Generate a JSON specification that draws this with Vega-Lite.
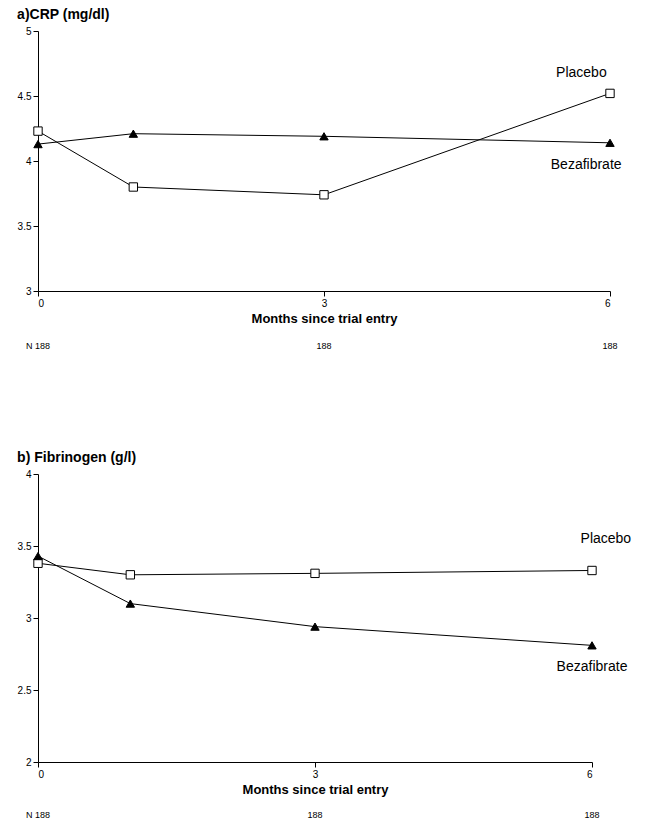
{
  "$schema": "https://vega.github.io/schema/vega-lite/v6.json",
  "config": {"view": {"stroke": null}, "font": "Liberation Sans", "axis": {"grid": false, "domainColor": "#000", "tickColor": "#000", "labelColor": "#000", "labelFontSize": 10, "titleColor": "#000"}},
  "padding": {"left": 17, "top": 8, "right": 0, "bottom": 0},
  "spacing": 100,
  "datasets": {
    "crp": [
      {"month": 0, "value": 4.23, "group": "Placebo"},
      {"month": 1, "value": 3.80, "group": "Placebo"},
      {"month": 3, "value": 3.74, "group": "Placebo"},
      {"month": 6, "value": 4.52, "group": "Placebo"},
      {"month": 0, "value": 4.13, "group": "Bezafibrate"},
      {"month": 1, "value": 4.21, "group": "Bezafibrate"},
      {"month": 3, "value": 4.19, "group": "Bezafibrate"},
      {"month": 6, "value": 4.14, "group": "Bezafibrate"}
    ],
    "fib": [
      {"month": 0, "value": 3.38, "group": "Placebo"},
      {"month": 1, "value": 3.30, "group": "Placebo"},
      {"month": 3, "value": 3.31, "group": "Placebo"},
      {"month": 6, "value": 3.33, "group": "Placebo"},
      {"month": 0, "value": 3.43, "group": "Bezafibrate"},
      {"month": 1, "value": 3.10, "group": "Bezafibrate"},
      {"month": 3, "value": 2.94, "group": "Bezafibrate"},
      {"month": 6, "value": 2.81, "group": "Bezafibrate"}
    ],
    "crpLabels": [
      {"month": 5.7, "value": 4.68, "label": "Placebo"},
      {"month": 5.75, "value": 3.97, "label": "Bezafibrate"}
    ],
    "fibLabels": [
      {"month": 6.15, "value": 3.55, "label": "Placebo"},
      {"month": 6.0, "value": 2.66, "label": "Bezafibrate"}
    ],
    "crpN": [
      {"month": 0, "value": 2.58, "label": "N  188"},
      {"month": 3, "value": 2.58, "label": "188"},
      {"month": 6, "value": 2.58, "label": "188"}
    ],
    "fibN": [
      {"month": 0, "value": 1.63, "label": "N  188"},
      {"month": 3, "value": 1.63, "label": "188"},
      {"month": 6, "value": 1.63, "label": "188"}
    ]
  },
  "vconcat": [
    {
      "width": 572, "height": 260,
      "title": {"text": "a)CRP (mg/dl)", "anchor": "start", "frame": "bounds", "fontSize": 14, "fontWeight": "bold", "offset": 4},
      "encoding": {
        "x": {"field": "month", "type": "quantitative", "scale": {"domain": [0, 6]}, "axis": {"values": [0, 3, 6], "title": "Months since trial entry", "titleFontSize": 13, "titleFontWeight": "bold", "titlePadding": 4}},
        "y": {"field": "value", "type": "quantitative", "scale": {"domain": [3, 5]}, "axis": {"values": [3, 3.5, 4, 4.5, 5], "format": "~g", "title": null}}
      },
      "layer": [
        {"data": {"name": "crp"}, "mark": {"type": "line", "color": "#000", "strokeWidth": 1}, "encoding": {"detail": {"field": "group"}}},
        {"data": {"name": "crp"}, "mark": {"type": "point", "filled": true, "size": 70, "stroke": "#000", "strokeWidth": 1, "opacity": 1},
         "encoding": {"shape": {"field": "group", "scale": {"domain": ["Placebo", "Bezafibrate"], "range": ["square", "triangle-up"]}, "legend": null},
                      "fill": {"field": "group", "scale": {"domain": ["Placebo", "Bezafibrate"], "range": ["#fff", "#000"]}, "legend": null}}},
        {"data": {"name": "crpLabels"}, "mark": {"type": "text", "fontSize": 14, "color": "#000"}, "encoding": {"text": {"field": "label"}}},
        {"data": {"name": "crpN"}, "mark": {"type": "text", "fontSize": 9, "color": "#000"}, "encoding": {"text": {"field": "label"}}}
      ]
    },
    {
      "width": 554, "height": 288,
      "title": {"text": "b) Fibrinogen (g/l)", "anchor": "start", "frame": "bounds", "fontSize": 14, "fontWeight": "bold", "offset": 4},
      "encoding": {
        "x": {"field": "month", "type": "quantitative", "scale": {"domain": [0, 6]}, "axis": {"values": [0, 3, 6], "title": "Months since trial entry", "titleFontSize": 13, "titleFontWeight": "bold", "titlePadding": 4}},
        "y": {"field": "value", "type": "quantitative", "scale": {"domain": [2, 4]}, "axis": {"values": [2, 2.5, 3, 3.5, 4], "format": "~g", "title": null}}
      },
      "layer": [
        {"data": {"name": "fib"}, "mark": {"type": "line", "color": "#000", "strokeWidth": 1}, "encoding": {"detail": {"field": "group"}}},
        {"data": {"name": "fib"}, "mark": {"type": "point", "filled": true, "size": 70, "stroke": "#000", "strokeWidth": 1, "opacity": 1},
         "encoding": {"shape": {"field": "group", "scale": {"domain": ["Placebo", "Bezafibrate"], "range": ["square", "triangle-up"]}, "legend": null},
                      "fill": {"field": "group", "scale": {"domain": ["Placebo", "Bezafibrate"], "range": ["#fff", "#000"]}, "legend": null}}},
        {"data": {"name": "fibLabels"}, "mark": {"type": "text", "fontSize": 14, "color": "#000"}, "encoding": {"text": {"field": "label"}}},
        {"data": {"name": "fibN"}, "mark": {"type": "text", "fontSize": 9, "color": "#000"}, "encoding": {"text": {"field": "label"}}}
      ]
    }
  ],
  "resolve": {"scale": {"shape": "independent", "fill": "independent"}}
}
